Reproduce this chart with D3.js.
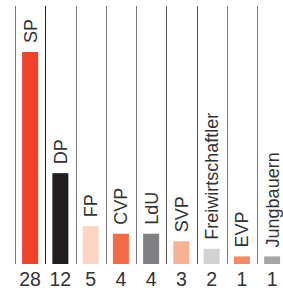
<!DOCTYPE html>
<html><head><meta charset="utf-8">
<script src="https://cdn.jsdelivr.net/npm/d3@7"></script>
<style>
html,body{margin:0;padding:0;background:#fff;}
svg{display:block;}
text{font-family:"Liberation Sans Narrow","Liberation Sans",Arial,sans-serif;fill:#333;}
</style></head>
<body>
<script>
const parties = ["SP","DP","FP","CVP","LdU","SVP","Freiwirtschaftler","EVP","Jungbauern"];
const seats = [28,12,5,4,4,3,2,1,1];
const colors = ["#f0412a","#231f20","#fdd5c0","#f26b43","#808083","#f9b191","#d1d2d4","#f48b68","#a5a5a8"];
const lineColors = ["#7a7a7a","#231f20","#7a7a7a","#7a7a7a","#7a7a7a","#555","#555","#7a7a7a","#7a7a7a"];

const W=283,H=291;
const svg=d3.select("body").append("svg").attr("width",W).attr("height",H);
const x=d3.scaleBand().domain(parties).range([15,15+30.25*9]).paddingInner(0).paddingOuter(0);
const barW=16;
const y=d3.scaleLinear().domain([0,28]).range([264,52]);

svg.selectAll("line.sep").data(parties).join("line")
  .attr("x1",d=>Math.round(x(d))+0.5).attr("x2",d=>Math.round(x(d))+0.5)
  .attr("y1",6).attr("y2",264)
  .attr("stroke",(d,i)=>lineColors[i]).attr("stroke-width",1);

svg.selectAll("rect.bar").data(parties).join("rect")
  .attr("x",d=>x(d)+x.bandwidth()/2-barW/2)
  .attr("width",barW)
  .attr("y",(d,i)=>y(seats[i]))
  .attr("height",(d,i)=>y(0)-y(seats[i]))
  .attr("fill",(d,i)=>colors[i]);

svg.selectAll("text.lab").data(parties).join("text")
  .attr("transform",(d,i)=>`translate(${x(d)+x.bandwidth()/2+6.5},${y(seats[i])-9}) rotate(-90)`)
  .attr("font-size",18)
  .text(d=>d);

svg.selectAll("text.val").data(parties).join("text")
  .attr("x",d=>x(d)+x.bandwidth()/2)
  .attr("y",286)
  .attr("text-anchor","middle")
  .attr("font-size",19.5)
  .text((d,i)=>seats[i]);
</script>
</body></html>
